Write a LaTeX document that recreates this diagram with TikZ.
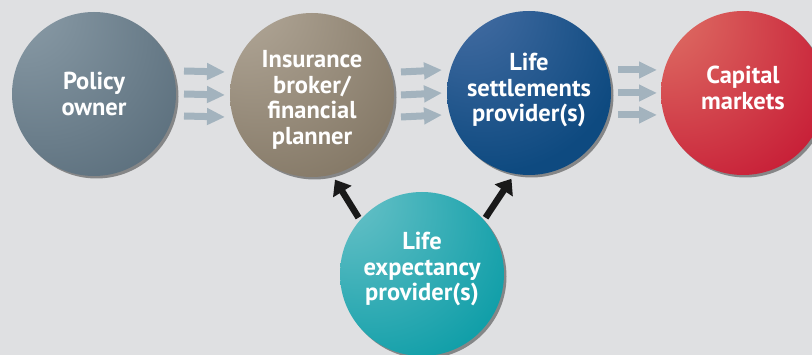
\documentclass[tikz,border=0pt]{standalone}
\usepackage{fontspec}
\setmainfont{PT Sans}
\usetikzlibrary{arrows.meta,shadows,calc}
\definecolor{bgc}{HTML}{DFE0E2}
\definecolor{arrgray}{HTML}{A3B3BE}
\definecolor{poH}{HTML}{8FA0AB}\definecolor{poB}{HTML}{586C7A}
\definecolor{ibH}{HTML}{B8AE9F}\definecolor{ibB}{HTML}{847866}
\definecolor{lsH}{HTML}{4D72A8}\definecolor{lsB}{HTML}{0E4A80}
\definecolor{cmH}{HTML}{E27C6C}\definecolor{cmB}{HTML}{C41230}
\definecolor{leH}{HTML}{72C5CB}\definecolor{leB}{HTML}{0A9CA6}
\pgfdeclareradialshading{poS}{\pgfpoint{-27bp}{31bp}}{color(0bp)=(poH); color(48bp)=(poB); color(75bp)=(poB)}
\pgfdeclareradialshading{ibS}{\pgfpoint{-27bp}{35bp}}{color(0bp)=(ibH); color(45bp)=(ibB); color(75bp)=(ibB)}
\pgfdeclareradialshading{lsS}{\pgfpoint{-24bp}{34bp}}{color(0bp)=(lsH); color(40bp)=(lsB); color(75bp)=(lsB)}
\pgfdeclareradialshading{cmS}{\pgfpoint{-32bp}{30bp}}{color(0bp)=(cmH); color(50bp)=(cmB); color(75bp)=(cmB)}
\pgfdeclareradialshading{leS}{\pgfpoint{-28bp}{28bp}}{color(0bp)=(leH); color(45bp)=(leB); color(75bp)=(leB)}
\tikzset{
  ball/.style={circle, minimum size=164pt, inner sep=0pt, outer sep=0pt,
    drop shadow={shadow xshift=2.5pt, shadow yshift=-2.5pt, fill=black, opacity=0.4}},
  txt/.style={text=white, font=\fontsize{24.5}{25.5}\selectfont\bfseries, align=center, inner sep=0pt},
  flowarrow/.style={draw=arrgray, line width=7pt, -{Triangle[length=18pt,width=16pt]}},
  blackarrow/.style={draw=black!90, line width=6.5pt, -{Triangle[length=14pt,width=21pt]},
    shorten <=3pt, shorten >=6pt}
}
\begin{document}
\begin{tikzpicture}[x=1pt,y=-1pt]
\useasboundingbox (0,0) rectangle (812,355);
\clip (0,0) rectangle (812,355);
\fill[bgc] (0,0) rectangle (812,355);
\node[ball, shading=poS] (po) at (94,94) {};
\node[ball, shading=ibS] (ib) at (312,95) {};
\node[ball, shading=lsS] (ls) at (529,93) {};
\node[ball, shading=cmS] (cm) at (743,93) {};
\node[ball, shading=leS] (le) at (422,274) {};
\node[txt] (pot) at ($(po.center)+(0,0)$) {Policy\\owner};
\node[txt] (ibt) at ($(ib.center)+(0,5)$) {Insurance\\broker/\\financial\\planner};
\node[txt] (lst) at ($(ls.center)+(0,-3)$) {Life\\settlements\\provider(s)};
\node[txt] (cmt) at ($(cm.center)+(0,-5)$) {Capital\\markets};
\node[txt] (let) at ($(le.center)+(0,-5)$) {Life\\expectancy\\provider(s)};
\foreach \dy in {-23,0,22}{
  \draw[flowarrow] ($(po.east)+(8,\dy)$) -- ($(ib.west)+(-5,\dy)$);
  \draw[flowarrow] ($(ib.east)+(7,\dy)$) -- ($(ls.west)+(-5,\dy)$);
  \draw[flowarrow] ($(ls.east)+(7,\dy)$) -- ($(cm.west)+(-4,\dy)$);
}
\draw[blackarrow] (le.139) -- (ib.284);
\draw[blackarrow] (le.41) -- (ls.260);
\end{tikzpicture}
\end{document}
